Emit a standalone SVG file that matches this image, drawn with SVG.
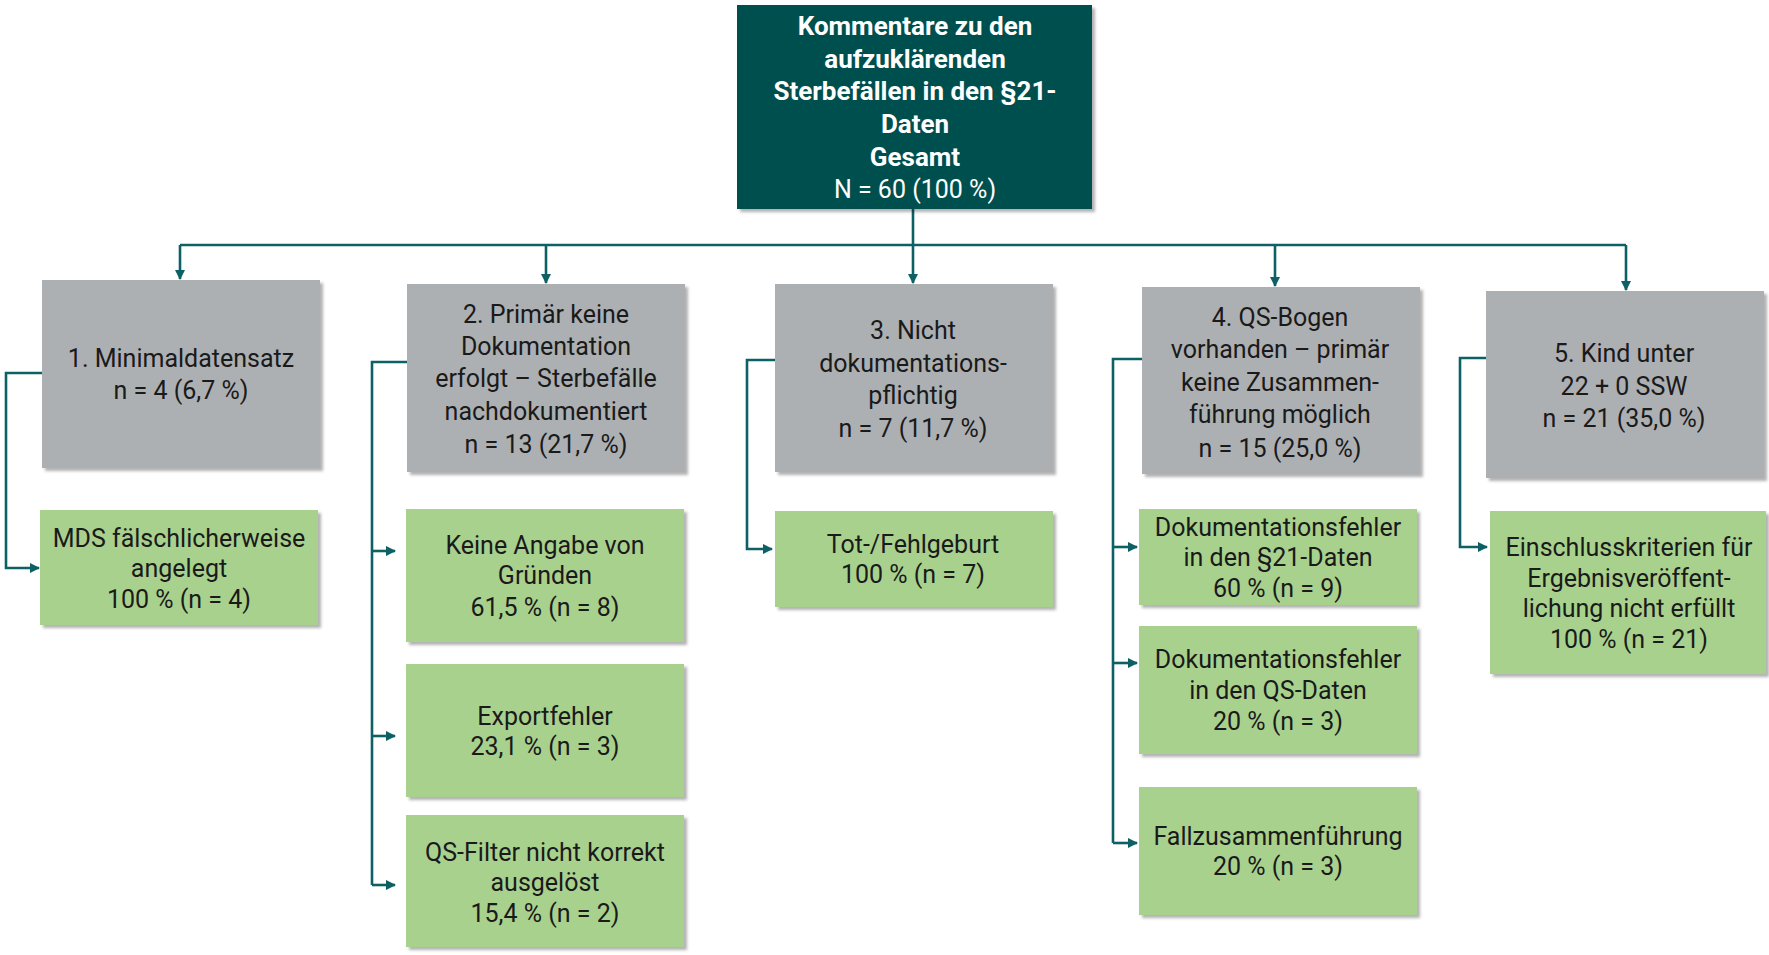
<svg xmlns="http://www.w3.org/2000/svg" width="1769" height="955" viewBox="0 0 1769 955">
<defs>
<filter id="sh" x="-5%" y="-5%" width="112%" height="115%">
<feDropShadow dx="3" dy="3" stdDeviation="1.5" flood-color="#000" flood-opacity="0.3"/>
</filter>
<marker id="ar" viewBox="0 0 10 10" refX="9" refY="5" markerWidth="4" markerHeight="4" orient="auto" markerUnits="strokeWidth">
<path d="M0,0 L10,5 L0,10 z" fill="#0d6064"/>
</marker>
</defs>
<style>
.top{fill:#01504f;filter:url(#sh)}
.gray{fill:#adb0b3;filter:url(#sh)}
.green{fill:#a9d18e;filter:url(#sh)}
text{font-family:Roboto,"Liberation Sans",sans-serif;font-size:25px;fill:#1a1a1a;text-anchor:middle}
.tw{fill:#ffffff;font-weight:bold;font-size:26px}
.tn{fill:#ffffff;font-weight:normal}
.c{fill:none;stroke:#0d6064;stroke-width:2.6}
.ca{fill:none;stroke:#0d6064;stroke-width:2.6;marker-end:url(#ar)}
</style>
<rect width="1769" height="955" fill="#ffffff"/>
<g id="connectors">
<path class="c" d="M913,209 V245"/>
<path class="c" d="M180,245 H1626"/>
<path class="ca" d="M180,245 V279"/>
<path class="ca" d="M546,245 V283"/>
<path class="ca" d="M913,245 V283"/>
<path class="ca" d="M1275,245 V286"/>
<path class="ca" d="M1626,245 V290"/>
<path class="ca" d="M42,373 H6 V568 H39"/>
<path class="c" d="M407,362 H372 V885"/>
<path class="ca" d="M372,551 H395"/>
<path class="ca" d="M372,736 H395"/>
<path class="ca" d="M372,885 H395"/>
<path class="ca" d="M775,360 H747 V549 H772"/>
<path class="c" d="M1142,359 H1113 V843"/>
<path class="ca" d="M1113,547 H1137"/>
<path class="ca" d="M1113,663 H1137"/>
<path class="ca" d="M1113,843 H1137"/>
<path class="ca" d="M1486,358 H1460 V547 H1487"/>
</g>
<g id="top">
<rect class="top" x="737" y="5" width="355" height="204"/>
<text class="tw" x="915" y="35">Kommentare zu den</text>
<text class="tw" x="915" y="68">aufzuklärenden</text>
<text class="tw" x="915" y="100">Sterbefällen in den §21-</text>
<text class="tw" x="915" y="133">Daten</text>
<text class="tw" x="915" y="166">Gesamt</text>
<text class="tn" x="915" y="198">N = 60 (100 %)</text>
</g>
<g id="n1">
<rect class="gray" x="42" y="280" width="278" height="188"/>
<text x="181" y="367">1. Minimaldatensatz</text>
<text x="181" y="399">n = 4 (6,7 %)</text>
</g>
<g id="n1a">
<rect class="green" x="40" y="510" width="278" height="115"/>
<text x="179" y="547">MDS fälschlicherweise</text>
<text x="179" y="577">angelegt</text>
<text x="179" y="608">100 % (n = 4)</text>
</g>
<g id="n2">
<rect class="gray" x="407" y="284" width="278" height="188"/>
<text x="546" y="323">2. Primär keine</text>
<text x="546" y="355">Dokumentation</text>
<text x="546" y="387">erfolgt – Sterbefälle</text>
<text x="546" y="420">nachdokumentiert</text>
<text x="546" y="453">n = 13 (21,7 %)</text>
</g>
<g id="n2a">
<rect class="green" x="406" y="509" width="278" height="133"/>
<text x="545" y="554">Keine Angabe von</text>
<text x="545" y="584">Gründen</text>
<text x="545" y="616">61,5 % (n = 8)</text>
</g>
<g id="n2b">
<rect class="green" x="406" y="664" width="278" height="133"/>
<text x="545" y="725">Exportfehler</text>
<text x="545" y="755">23,1 % (n = 3)</text>
</g>
<g id="n2c">
<rect class="green" x="406" y="815" width="278" height="132"/>
<text x="545" y="861">QS-Filter nicht korrekt</text>
<text x="545" y="891">ausgelöst</text>
<text x="545" y="922">15,4 % (n = 2)</text>
</g>
<g id="n3">
<rect class="gray" x="775" y="284" width="278" height="188"/>
<text x="913" y="339">3. Nicht</text>
<text x="913" y="372">dokumentations-</text>
<text x="913" y="404">pflichtig</text>
<text x="913" y="437">n = 7 (11,7 %)</text>
</g>
<g id="n3a">
<rect class="green" x="775" y="511" width="278" height="96"/>
<text x="913" y="553">Tot-/Fehlgeburt</text>
<text x="913" y="583">100 % (n = 7)</text>
</g>
<g id="n4">
<rect class="gray" x="1142" y="287" width="278" height="187"/>
<text x="1280" y="326">4. QS-Bogen</text>
<text x="1280" y="358">vorhanden – primär</text>
<text x="1280" y="391">keine Zusammen-</text>
<text x="1280" y="423">führung möglich</text>
<text x="1280" y="457">n = 15 (25,0 %)</text>
</g>
<g id="n4a">
<rect class="green" x="1139" y="509" width="278" height="96"/>
<text x="1278" y="536">Dokumentationsfehler</text>
<text x="1278" y="566">in den §21-Daten</text>
<text x="1278" y="597">60 % (n = 9)</text>
</g>
<g id="n4b">
<rect class="green" x="1139" y="626" width="278" height="128"/>
<text x="1278" y="668">Dokumentationsfehler</text>
<text x="1278" y="699">in den QS-Daten</text>
<text x="1278" y="730">20 % (n = 3)</text>
</g>
<g id="n4c">
<rect class="green" x="1139" y="787" width="278" height="128"/>
<text x="1278" y="845">Fallzusammenführung</text>
<text x="1278" y="875">20 % (n = 3)</text>
</g>
<g id="n5">
<rect class="gray" x="1486" y="291" width="278" height="187"/>
<text x="1624" y="362">5. Kind unter</text>
<text x="1624" y="395">22 + 0 SSW</text>
<text x="1624" y="427">n = 21 (35,0 %)</text>
</g>
<g id="n5a">
<rect class="green" x="1490" y="511" width="276" height="163"/>
<text x="1629" y="556">Einschlusskriterien für</text>
<text x="1629" y="587">Ergebnisveröffent-</text>
<text x="1629" y="617">lichung nicht erfüllt</text>
<text x="1629" y="648">100 % (n = 21)</text>
</g>
</svg>
